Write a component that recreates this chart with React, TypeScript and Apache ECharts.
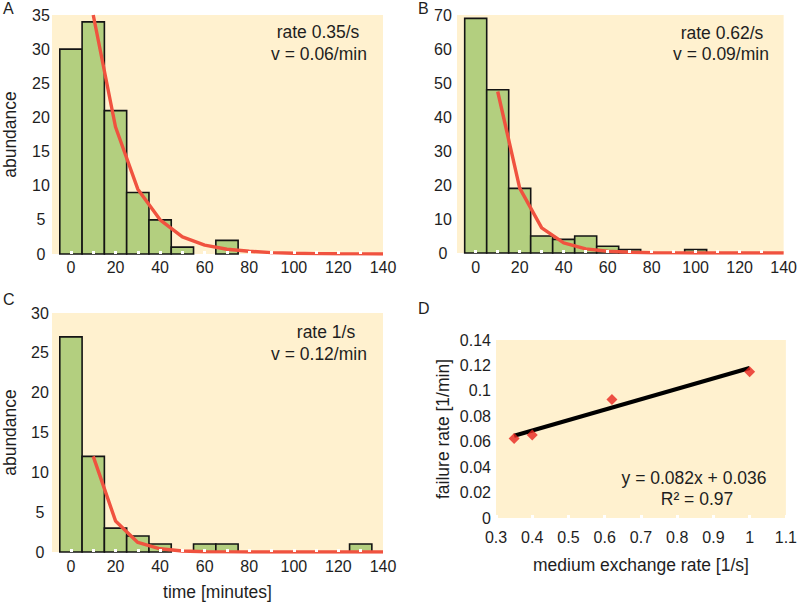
import React, { useEffect, useRef } from "react";
import * as echarts from "echarts";

// ---- data ----
const binCenters = [0, 10, 20, 30, 40, 50, 60, 70, 80, 90, 100, 110, 120, 130];
const countsA = [30, 34, 21, 9, 5, 1, 0, 2, 0, 0, 0, 0, 0, 0];
const countsB = [69, 48, 19, 5, 4, 5, 2, 1, 0, 0, 1, 0, 0, 0];
const countsC = [27, 12, 3, 2, 1, 0, 1, 1, 0, 0, 0, 0, 0, 1];

const fitX = [10, 20, 30, 40, 50, 60, 70, 80, 90, 100, 110, 120, 130, 140];
const fitA = [35, 18.6, 9.5, 5.0, 2.5, 1.3, 0.7, 0.4, 0.2, 0.1, 0.06, 0.03, 0.02, 0.01];
const fitB = [47.5, 19.1, 7.4, 3.0, 1.2, 0.5, 0.2, 0.08, 0.03, 0.01, 0, 0, 0, 0];
const fitC = [12, 3.9, 1.2, 0.4, 0.12, 0.04, 0.01, 0, 0, 0, 0, 0, 0, 0];

const histLabelValues = [0, 20, 40, 60, 80, 100, 120, 140];
const histTickValues = [0, 10, 20, 30, 40, 50, 60, 70, 80, 90, 100, 110, 120, 130];

const exchangeRate = [0.35, 0.4, 0.62, 1.0];
const failureRate = [0.0625, 0.0652, 0.0933, 0.115];
const trendX = [0.35, 1.0];
const trendY = [0.0647, 0.118];

const annotA = ["rate 0.35/s", "v = 0.06/min"];
const annotB = ["rate 0.62/s", "v = 0.09/min"];
const annotC = ["rate 1/s", "v = 0.12/min"];
const annotD = ["y = 0.082x + 0.036", "R\u00b2 = 0.97"];
const panelLetters = ["A", "B", "C", "D"];

// ---- styles ----
const FONT = "Liberation Sans, Arial, Helvetica, sans-serif";
const GREEN = "#b3cf7f";
const BG = "#fff1cf";
const RED = "#f0523f";
const TEXT = "#1e1e1e";
const TITLE_SIZE = 17.5;

function histBars(gridIdx: number, counts: number[]) {
  return {
    type: "custom",
    xAxisIndex: gridIdx,
    yAxisIndex: gridIdx,
    z: 2,
    data: binCenters.map((c, i) => [c, counts[i]]),
    encode: { x: 0, y: 1 },
    renderItem: (params: any, api: any) => {
      const x = api.value(0);
      const y = api.value(1);
      if (!y) return null;
      const p0 = api.coord([x - 5, 0]);
      const p1 = api.coord([x + 5, y]);
      return {
        type: "rect",
        shape: { x: p0[0], y: p1[1], width: p1[0] - p0[0], height: p0[1] - p1[1] },
        style: { fill: GREEN, stroke: "#141414", lineWidth: 1.6 },
      };
    },
  };
}

function fitLine(gridIdx: number, fit: number[]) {
  return {
    type: "line",
    xAxisIndex: gridIdx,
    yAxisIndex: gridIdx,
    z: 3,
    data: fitX.map((x, i) => [x, fit[i]]),
    showSymbol: false,
    symbol: "none",
    clip: true,
    lineStyle: { color: RED, width: 3.4 },
  };
}

function histXAxis(gridIdx: number, margin: number, name?: string) {
  return {
    type: "value",
    gridIndex: gridIdx,
    min: -8.5,
    max: 140,
    z: 10,
    axisLine: { show: false },
    splitLine: { show: false },
    axisTick: {
      show: true,
      inside: true,
      length: 3,
      customValues: histTickValues,
      lineStyle: { color: "#ffffff", width: 3 },
    },
    axisLabel: {
      customValues: histLabelValues,
      color: TEXT,
      fontSize: 16,
      fontFamily: FONT,
      margin,
    },
    name: name || "",
    nameLocation: "middle",
    nameGap: 31,
    nameTextStyle: { color: TEXT, fontSize: TITLE_SIZE, fontFamily: FONT },
  };
}

function histYAxis(gridIdx: number, max: number, interval: number, margin: number, name?: string) {
  return {
    type: "value",
    gridIndex: gridIdx,
    min: 0,
    max,
    interval,
    axisLine: { show: false },
    axisTick: { show: false },
    splitLine: { show: false },
    axisLabel: {
      color: TEXT,
      fontSize: 16,
      fontFamily: FONT,
      align: "center",
      margin,
    },
    name: name || "",
    nameLocation: "middle",
    nameRotate: 90,
    nameGap: 33,
    nameTextStyle: { color: TEXT, fontSize: TITLE_SIZE, fontFamily: FONT },
  };
}

function txt(text: string, x: number, y: number, size = TITLE_SIZE, align = "center") {
  return {
    type: "text",
    x,
    y,
    z: 100,
    style: {
      text,
      font: `${size}px ${FONT}`,
      fill: TEXT,
      textAlign: align,
      textVerticalAlign: "middle",
      align,
      verticalAlign: "middle",
    },
  };
}

export default function App() {
  const ref = useRef<HTMLDivElement>(null);

  useEffect(() => {
    document.body.style.margin = "0";
    if (!ref.current) return;
    const chart = echarts.init(ref.current, undefined, { renderer: "svg" });

    const option: any = {
      animation: false,
      backgroundColor: "#ffffff",
      textStyle: { fontFamily: FONT },
      grid: [
        { left: 52, top: 15, width: 331, height: 239, show: true, backgroundColor: BG, borderWidth: 0 },
        { left: 457, top: 15, width: 331, height: 238, show: true, backgroundColor: BG, borderWidth: 0 },
        { left: 52, top: 313, width: 331, height: 240, show: true, backgroundColor: BG, borderWidth: 0 },
        { left: 496, top: 340, width: 291, height: 178, show: true, backgroundColor: BG, borderWidth: 0 },
      ],
      xAxis: [
        histXAxis(0, 5),
        histXAxis(1, 6),
        histXAxis(2, 6, "time [minutes]"),
        {
          type: "value",
          gridIndex: 3,
          min: 0.3,
          max: 1.1,
          interval: 0.1,
          z: 10,
          axisLine: { show: false },
          splitLine: { show: false },
          axisTick: { show: true, inside: true, length: 3, lineStyle: { color: "#ffffff", width: 3 } },
          axisLabel: { color: TEXT, fontSize: 16, fontFamily: FONT, margin: 11 },
          name: "medium exchange rate [1/s]",
          nameLocation: "middle",
          nameGap: 38,
          nameTextStyle: { color: TEXT, fontSize: TITLE_SIZE, fontFamily: FONT },
        },
      ],
      yAxis: [
        histYAxis(0, 35, 5, 11, "abundance"),
        histYAxis(1, 70, 10, 14),
        histYAxis(2, 30, 5, 12, "abundance"),
        {
          type: "value",
          gridIndex: 3,
          min: 0,
          max: 0.14,
          interval: 0.02,
          axisLine: { show: false },
          axisTick: { show: false },
          splitLine: { show: false },
          axisLabel: { color: TEXT, fontSize: 16, fontFamily: FONT, margin: 5 },
          name: "failure rate [1/min]",
          nameLocation: "middle",
          nameRotate: 90,
          nameGap: 44,
          nameTextStyle: { color: TEXT, fontSize: TITLE_SIZE, fontFamily: FONT },
        },
      ],
      series: [
        histBars(0, countsA),
        fitLine(0, fitA),
        histBars(1, countsB),
        fitLine(1, fitB),
        histBars(2, countsC),
        fitLine(2, fitC),
        {
          type: "line",
          xAxisIndex: 3,
          yAxisIndex: 3,
          z: 3,
          data: trendX.map((x, i) => [x, trendY[i]]),
          showSymbol: false,
          symbol: "none",
          lineStyle: { color: "#000000", width: 4 },
        },
        {
          type: "scatter",
          xAxisIndex: 3,
          yAxisIndex: 3,
          z: 4,
          symbol: "diamond",
          symbolSize: 11,
          itemStyle: { color: "#e8261e" },
          data: exchangeRate.map((x, i) => [x, failureRate[i]]),
        },
      ],
      graphic: [
        txt(annotA[0], 318, 32),
        txt(annotA[1], 319, 54),
        txt(annotB[0], 722, 33),
        txt(annotB[1], 721, 54),
        txt(annotC[0], 326, 332),
        txt(annotC[1], 319, 354),
        txt(annotD[0], 694, 478),
        txt(annotD[1], 697, 499),
        txt(panelLetters[0], 3, 8, 16, "left"),
        txt(panelLetters[1], 418, 8, 16, "left"),
        txt(panelLetters[2], 3, 299, 16, "left"),
        txt(panelLetters[3], 418, 308, 16, "left"),
      ],
    };

    chart.setOption(option);
    return () => chart.dispose();
  }, []);

  return <div ref={ref} style={{ width: 800, height: 602 }} />;
}
